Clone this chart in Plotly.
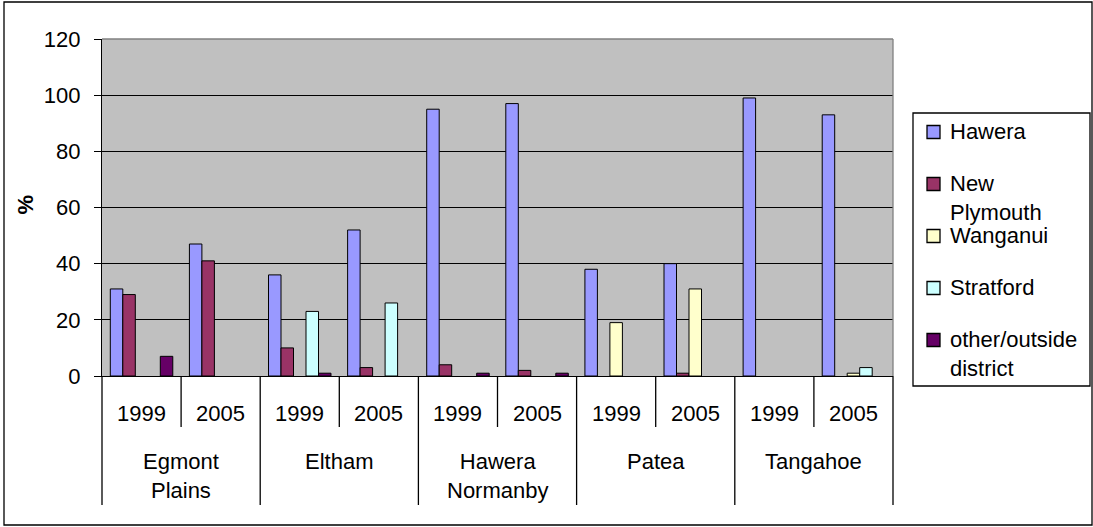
import plotly.graph_objects as go

# Source of customers by district and survey year (%)
districts = ["Egmont Plains", "Eltham", "Hawera Normanby", "Patea", "Tangahoe"]
district_labels = ["Egmont<br>Plains", "Eltham", "Hawera<br>Normanby", "Patea", "Tangahoe"]
years = ["1999", "2005"]

hawera = [31, 47, 36, 52, 95, 97, 38, 40, 99, 93]
new_plymouth = [29, 41, 10, 3, 4, 2, None, 1, None, None]
wanganui = [None, None, None, None, None, None, 19, 31, None, 1]
stratford = [None, None, 23, 26, None, None, None, None, None, 3]
other = [7, None, 1, None, 1, 1, None, None, None, None]

y_ticks = [0, 20, 40, 60, 80, 100, 120]

series_names = ["Hawera", "New Plymouth", "Wanganui", "Stratford", "other/outside district"]
legend_labels = ["Hawera", "New<br>Plymouth", "Wanganui", "Stratford", "other/outside<br>district"]
series_values = [hawera, new_plymouth, wanganui, stratford, other]
series_colors = ["#9999FF", "#993366", "#FFFFCC", "#CCFFFF", "#660066"]

cats = [f"{d} {y}" for d in districts for y in years]
n = len(cats)

FONT = "Liberation Sans, Arial, sans-serif"
FS = 22

fig = go.Figure()
for name, vals, col in zip(series_names, series_values, series_colors):
    fig.add_trace(go.Bar(
        x=cats, y=vals, name=name,
        marker=dict(color=col, line=dict(color="black", width=1)),
    ))

# Year labels under each bar group
for i, c in enumerate(cats):
    fig.add_annotation(x=i, y=0, xref="x", yref="paper", text=years[i % 2],
                       showarrow=False, yanchor="middle", yshift=-37,
                       font=dict(size=FS, color="black", family=FONT))

# District labels under each pair of years
for k, lab in enumerate(district_labels):
    fig.add_annotation(x=2 * k + 0.5, y=0, xref="x", yref="paper", text=lab,
                       showarrow=False, yanchor="top", yshift=-71,
                       font=dict(size=FS, color="black", family=FONT))

# Category separators: short between years, long between districts
shapes = []
for b in range(n + 1):
    long_line = (b % 2 == 0)
    shapes.append(dict(type="line", xref="paper", yref="paper",
                       x0=b / n, x1=b / n, ysizemode="pixel", yanchor=0,
                       y0=0, y1=-129 if long_line else -51,
                       line=dict(color="black", width=1.3)))

# Grey frame on the top and right of the plot area
shapes.append(dict(type="line", xref="paper", yref="paper", x0=0, x1=1, y0=1, y1=1,
                   line=dict(color="#808080", width=1.3), layer="above"))
shapes.append(dict(type="line", xref="paper", yref="paper", x0=1, x1=1, y0=0, y1=1,
                   line=dict(color="#808080", width=1.3), layer="above"))

# Outer chart border
shapes.append(dict(type="rect", xref="paper", yref="paper",
                   xsizemode="pixel", ysizemode="pixel", xanchor=0, yanchor=0,
                   x0=-98, x1=990, y0=-149, y1=374,
                   line=dict(color="black", width=1.3), fillcolor="rgba(0,0,0,0)"))

# Legend box to the right of the plot (pixel offsets from the plot's top-right corner)
shapes.append(dict(type="rect", xref="paper", yref="paper",
                   xsizemode="pixel", ysizemode="pixel", xanchor=1, yanchor=1,
                   x0=20, x1=197, y0=-74, y1=-347,
                   line=dict(color="black", width=1.3), fillcolor="white"))
row_step = 52
first_row = 93  # pixels below the plot top
for r, (lab, col) in enumerate(zip(legend_labels, series_colors)):
    cy = first_row + r * row_step
    shapes.append(dict(type="rect", xref="paper", yref="paper",
                       xsizemode="pixel", ysizemode="pixel", xanchor=1, yanchor=1,
                       x0=34, x1=47, y0=-cy - 6.5, y1=-cy + 6.5,
                       line=dict(color="black", width=1.3), fillcolor=col))
    fig.add_annotation(x=1, y=1, xref="paper", yref="paper", text=lab,
                       showarrow=False, xanchor="left", yanchor="top", align="left",
                       xshift=55, yshift=-(cy - 15.5),
                       font=dict(size=FS, color="black", family=FONT))

fig.update_layout(shapes=shapes)

# Axis title
fig.add_annotation(x=0, y=0.5, xref="paper", yref="paper", text="<b>%</b>",
                   showarrow=False, textangle=-90, xanchor="center", yanchor="middle",
                   xshift=-77, yshift=3,
                   font=dict(size=FS, color="black", family=FONT))

fig.update_layout(
    width=1093, height=527,
    margin=dict(l=102, r=200, t=39, b=151),
    paper_bgcolor="white",
    plot_bgcolor="#C0C0C0",
    barmode="group", bargap=0.21, bargroupgap=0,
    font=dict(family=FONT, size=FS, color="black"),
    xaxis=dict(showticklabels=False, ticks="", showgrid=False,
               showline=True, linecolor="black", linewidth=1.3,
               categoryorder="array", categoryarray=cats),
    yaxis=dict(range=[0, 120], tickvals=y_ticks, ticks="outside", ticklen=7,
               tickcolor="black", tickwidth=1.3, ticklabelstandoff=9,
               showgrid=True, gridcolor="black", gridwidth=1.1,
               showline=True, linecolor="black", linewidth=1.3,
               zeroline=True, zerolinecolor="black", zerolinewidth=1.3,
               tickfont=dict(size=FS, family=FONT, color="black")),
    showlegend=False,
)

fig.write_html("out.html")
